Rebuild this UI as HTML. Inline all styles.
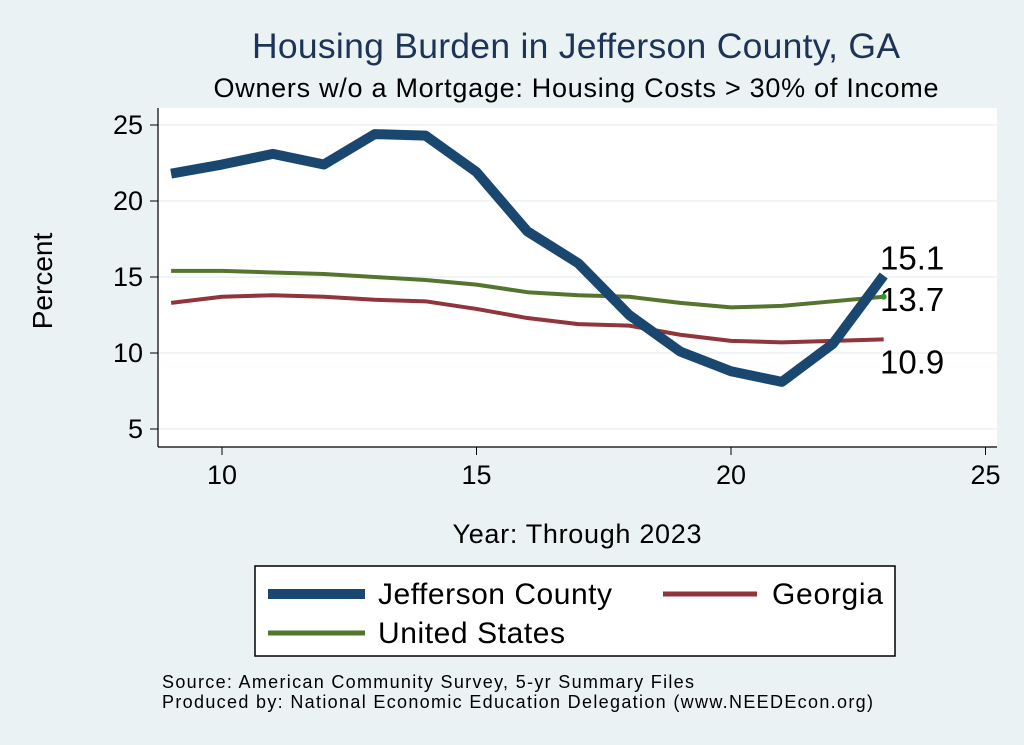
<!DOCTYPE html>
<html><head><meta charset="utf-8"><style>
body{margin:0;background:#eaf2f3;font-family:"Liberation Sans",sans-serif}
svg{display:block}
</style></head><body>
<svg id="c" width="1024" height="745" xmlns="http://www.w3.org/2000/svg">
<rect x="0" y="0" width="1024" height="745" fill="#eaf2f3"/>
<rect x="158" y="108" width="839" height="339" fill="#fff"/>
<text x="576" y="58" text-anchor="middle" font-size="35.5" fill="#1e3456" textLength="648">Housing Burden in Jefferson County, GA</text>
<text x="576" y="97" text-anchor="middle" font-size="27" fill="#000" textLength="725">Owners w/o a Mortgage: Housing Costs &gt; 30% of Income</text>
<g id="grid"></g><g id="axes"></g><g id="series"></g>
<text x="52" y="281" text-anchor="middle" font-size="28" transform="rotate(-90 52 281)">Percent</text>
<text x="577" y="543" text-anchor="middle" font-size="27" textLength="249">Year: Through 2023</text>
<rect x="255" y="566" width="640" height="90" fill="#fff" stroke="#000" stroke-width="1.5"/>
<g><line x1="268" y1="594" x2="365" y2="594" stroke="#1a476f" stroke-width="10"/><text x="378" y="604" font-size="30" textLength="234">Jefferson County</text></g>
<g><line x1="663" y1="594" x2="757" y2="594" stroke="#90353b" stroke-width="5"/><text x="772" y="604" font-size="30" textLength="111">Georgia</text></g>
<g><line x1="268" y1="633" x2="365" y2="633" stroke="#55752f" stroke-width="5"/><text x="378" y="643" font-size="30" textLength="187">United States</text></g>
<text x="162" y="688" font-size="18" textLength="532">Source: American Community Survey, 5-yr Summary Files</text>
<text x="162" y="708" font-size="18" textLength="711">Produced by: National Economic Education Delegation (www.NEEDEcon.org)</text>
</svg>
<script>
const years=[9,10,11,12,13,14,15,16,17,18,19,20,21,22,23];
const jefferson=[21.8,22.4,23.1,22.4,24.4,24.3,21.9,18.0,15.9,12.5,10.1,8.8,8.1,10.6,15.1];
const georgia=[13.3,13.7,13.8,13.7,13.5,13.4,12.9,12.3,11.9,11.8,11.2,10.8,10.7,10.8,10.9];
const us=[15.4,15.4,15.3,15.2,15.0,14.8,14.5,14.0,13.8,13.7,13.3,13.0,13.1,13.4,13.7];
const xTicks=[10,15,20,25];
const yTicks=[5,10,15,20,25];
const NS="http://www.w3.org/2000/svg";
const xS=v=>222+(v-10)*50.9;
const yS=v=>353-(v-10)*15.2;
function mk(t,a,p){const e=document.createElementNS(NS,t);for(const k in a)e.setAttribute(k,a[k]);p.appendChild(e);return e;}
const grid=document.getElementById('grid'),axes=document.getElementById('axes'),ser=document.getElementById('series');
mk('line',{x1:158,y1:108,x2:158,y2:447,stroke:'#000','stroke-width':1.2},axes);
mk('line',{x1:158,y1:447,x2:997,y2:447,stroke:'#000','stroke-width':1.2},axes);
yTicks.forEach(v=>{
 const g=mk('line',{x1:158,y1:yS(v),x2:997,y2:yS(v),stroke:'#eaf2f3','stroke-width':1.5},grid);
 
 
 mk('line',{x1:150,y1:yS(v),x2:158,y2:yS(v),stroke:'#000'},axes);
 const t=mk('text',{x:143,y:yS(v)+9,'text-anchor':'end','font-size':27},axes);t.textContent=v;
 
 
});
xTicks.forEach(v=>{
 mk('line',{x1:xS(v),y1:447,x2:xS(v),y2:455,stroke:'#000'},axes);
 const t=mk('text',{x:xS(v),y:484,'text-anchor':'middle','font-size':27},axes);t.textContent=v;
 
 
});
function line(vals,col,w,name){
 const p=mk('polyline',{points:vals.map((v,i)=>xS(years[i])+','+yS(v)).join(' '),fill:'none',stroke:col,'stroke-width':w,'stroke-linejoin':'round'},ser);
 
 
}
line(us,'#55752f',4,'us-line');
line(georgia,'#90353b',4,'georgia-line');
line(jefferson,'#1a476f',10,'jefferson-line');
const last=years.length-1;
mk('circle',{cx:xS(years[last]),cy:yS(us[last]),r:3,fill:'#2a9a2a'},ser);
const labs=[[jefferson[last],yS(jefferson[last])-6],[us[last],yS(us[last])+14],[georgia[last],yS(georgia[last])+34]];
labs.forEach(([v,y])=>{const t=mk('text',{x:880,y:y,'font-size':33},ser);t.textContent=v.toFixed(1);
 
 });
</script>
</body></html>
